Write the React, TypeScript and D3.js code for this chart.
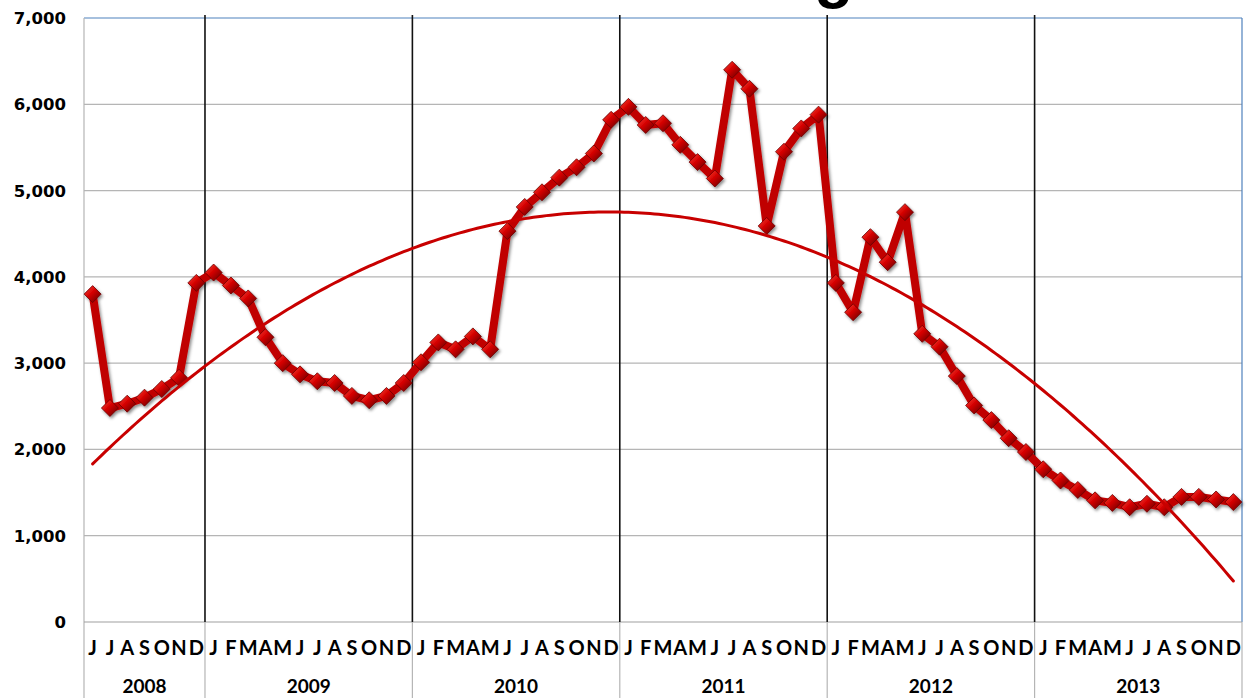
import React from "react";
import * as d3 from "d3";

// Monthly listing counts, June 2008 – December 2013
const months2008 = ["J", "J", "A", "S", "O", "N", "D"];
const monthsFull = ["J", "F", "M", "A", "M", "J", "J", "A", "S", "O", "N", "D"];
const years = ["2008", "2009", "2010", "2011", "2012", "2013"];

const listings2008 = [3800, 2480, 2530, 2600, 2700, 2830, 3930];
const listings2009 = [4050, 3900, 3750, 3300, 3000, 2870, 2790, 2770, 2620, 2570, 2620, 2770];
const listings2010 = [3010, 3240, 3160, 3310, 3160, 4530, 4810, 4980, 5150, 5270, 5430, 5820];
const listings2011 = [5970, 5760, 5780, 5530, 5330, 5140, 6400, 6180, 4590, 5450, 5720, 5880];
const listings2012 = [3930, 3590, 4460, 4170, 4750, 3340, 3190, 2850, 2510, 2340, 2130, 1970];
const listings2013 = [1770, 1640, 1530, 1410, 1380, 1330, 1370, 1330, 1450, 1450, 1420, 1390];

const yTicks = [0, 1000, 2000, 3000, 4000, 5000, 6000, 7000];

const W = 1251;
const H = 698;
const left = 84;
const right = 1242;
const top = 18;
const bottom = 622;

const yearSeries = [listings2008, listings2009, listings2010, listings2011, listings2012, listings2013];
const values = yearSeries.flat();
const monthLabels = [months2008, monthsFull, monthsFull, monthsFull, monthsFull, monthsFull].flat();

// Least-squares polynomial (order 2) trend through the monthly values
function quadraticFit(ys: number[]) {
  const s = [0, 0, 0, 0, 0];
  const t = [0, 0, 0];
  ys.forEach((v, i) => {
    const xv = i + 1;
    for (let k = 0; k < 5; k++) s[k] += Math.pow(xv, k);
    for (let k = 0; k < 3; k++) t[k] += v * Math.pow(xv, k);
  });
  const A = [
    [s[0], s[1], s[2], t[0]],
    [s[1], s[2], s[3], t[1]],
    [s[2], s[3], s[4], t[2]],
  ];
  for (let c = 0; c < 3; c++) {
    for (let r = c + 1; r < 3; r++) {
      const f = A[r][c] / A[c][c];
      for (let k = c; k < 4; k++) A[r][k] -= f * A[c][k];
    }
  }
  const coef = [0, 0, 0];
  for (let r = 2; r >= 0; r--) {
    let sum = A[r][3];
    for (let k = r + 1; k < 3; k++) sum -= A[r][k] * coef[k];
    coef[r] = sum / A[r][r];
  }
  return (xi: number) => coef[0] + coef[1] * (xi + 1) + coef[2] * (xi + 1) * (xi + 1);
}

export default function App() {
  const n = values.length;
  const x = d3.scaleLinear().domain([0, n]).range([left, right]);
  const y = d3.scaleLinear().domain([0, 7000]).range([bottom, top]);
  const cx = (i: number) => x(i + 0.5);

  const line = d3
    .line<number>()
    .x((_, i) => cx(i))
    .y((d) => y(d));

  const trend = quadraticFit(values);
  const trendPts = d3.range(0, n - 1 + 0.001, 0.25);
  const trendLine = d3
    .line<number>()
    .x((t) => cx(t))
    .y((t) => y(trend(t)));

  // month index at which each year starts
  const yearStarts: number[] = [];
  let acc = 0;
  yearSeries.forEach((s) => {
    yearStarts.push(acc);
    acc += s.length;
  });

  const diamond = "M0,-8.5 L8.5,0 L0,8.5 L-8.5,0 Z";

  return (
    <svg
      width={W}
      height={H}
      style={{ position: "fixed", left: 0, top: 0, background: "#fff" }}
    >
      <defs>
        <linearGradient id="gem" x1="0" y1="0" x2="1" y2="1">
          <stop offset="0" stopColor="#ff4a3a" />
          <stop offset="0.45" stopColor="#d40000" />
          <stop offset="1" stopColor="#5a0000" />
        </linearGradient>
        <filter id="shade" x="-30%" y="-30%" width="160%" height="160%">
          <feDropShadow dx="1.5" dy="2" stdDeviation="1.5" floodColor="#000" floodOpacity="0.45" />
        </filter>
      </defs>

      {/* title, sitting mostly above the top edge */}
      <text
        x={889}
        y={-4}
        textAnchor="end"
        fontFamily="Liberation Sans, Arial, sans-serif"
        fontWeight="bold"
        fontSize={64}
        fill="#000"
      >
        Active Listings
      </text>

      {/* horizontal gridlines */}
      {yTicks
        .filter((t) => t > 0 && t < 7000)
        .map((t) => (
          <line key={t} x1={left} x2={right} y1={y(t)} y2={y(t)} stroke="#b5b5b5" strokeWidth={1.2} />
        ))}
      {/* plot frame */}
      <line x1={left} x2={right} y1={y(7000)} y2={y(7000)} stroke="#4f81bd" strokeWidth={1.2} />
      <line x1={right} x2={right} y1={top} y2={bottom} stroke="#4f81bd" strokeWidth={1.2} />
      <line x1={left} x2={left} y1={top} y2={H} stroke="#b5b5b5" strokeWidth={1.2} />
      <line x1={left} x2={right} y1={bottom} y2={bottom} stroke="#a0a0a0" strokeWidth={1.2} />

      {/* year dividers */}
      {yearStarts.slice(1).map((s) => (
        <g key={s}>
          <line x1={x(s)} x2={x(s)} y1={15} y2={bottom} stroke="#111" strokeWidth={1.6} />
          <line x1={x(s)} x2={x(s)} y1={bottom} y2={H} stroke="#b5b5b5" strokeWidth={1.2} />
        </g>
      ))}
      <line x1={right} x2={right} y1={bottom} y2={H} stroke="#b5b5b5" strokeWidth={1.2} />

      {/* y-axis labels */}
      {yTicks.map((t) => (
        <text
          key={t}
          x={66}
          y={y(t)}
          dy="0.36em"
          textAnchor="end"
          fontFamily="DejaVu Sans, Verdana, sans-serif"
          fontWeight="bold"
          fontSize={16.5}
          fill="#000"
        >
          {d3.format(",")(t)}
        </text>
      ))}

      {/* month letters */}
      {monthLabels.map((m, i) => (
        <text
          key={i}
          x={cx(i)}
          y={655}
          textAnchor="middle"
          fontFamily="Lato, sans-serif"
          fontWeight="bold"
          fontSize={20}
          fill="#000"
        >
          {m}
        </text>
      ))}

      {/* year labels */}
      {years.map((yr, k) => {
        const s = yearStarts[k];
        const e = s + yearSeries[k].length;
        return (
          <text
            key={yr}
            x={(x(s) + x(e)) / 2}
            y={693}
            textAnchor="middle"
            fontFamily="Lato, sans-serif"
            fontWeight="bold"
            fontSize={19}
            fill="#000"
          >
            {yr}
          </text>
        );
      })}

      {/* series */}
      <g filter="url(#shade)">
        <path
          d={line(values) || ""}
          fill="none"
          stroke="#c00000"
          strokeWidth={8}
          strokeLinejoin="round"
        />
        {values.map((v, i) => (
          <path
            key={i}
            d={diamond}
            transform={`translate(${cx(i)},${y(v)})`}
            fill="url(#gem)"
            stroke="#6a0000"
            strokeWidth={0.8}
          />
        ))}
      </g>

      {/* trend line */}
      <path
        d={trendLine(trendPts) || ""}
        fill="none"
        stroke="#c80000"
        strokeWidth={3}
        strokeLinecap="round"
      />
    </svg>
  );
}
